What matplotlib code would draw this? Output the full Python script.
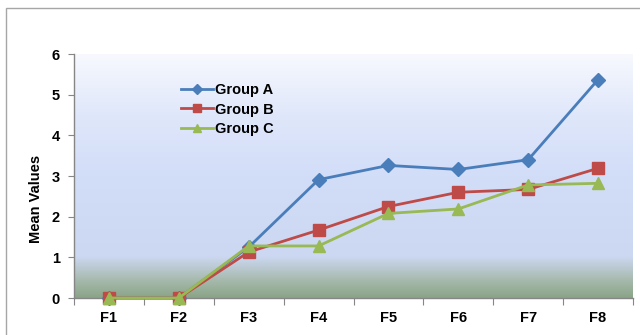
import numpy as np
import matplotlib
matplotlib.use("Agg")
import matplotlib.pyplot as plt
from matplotlib.colors import LinearSegmentedColormap
from matplotlib.patches import Rectangle
from matplotlib.lines import Line2D

categories = ["F1", "F2", "F3", "F4", "F5", "F6", "F7", "F8"]
group_a = [0, 0, 1.25, 2.91, 3.26, 3.16, 3.40, 5.37]
group_b = [0, 0, 1.13, 1.67, 2.25, 2.60, 2.67, 3.19]
group_c = [0, 0, 1.28, 1.28, 2.08, 2.19, 2.78, 2.82]
series_names = ["Group A", "Group B", "Group C"]
y_ticks = [0, 1, 2, 3, 4, 5, 6]

plt.rcParams["font.family"] = ["Liberation Sans", "DejaVu Sans"]

W, H = 640, 335
fig = plt.figure(figsize=(W / 100, H / 100), dpi=100)
fig.patch.set_facecolor("white")

# outer chart frame (runs past the right and bottom edges)
frame = Rectangle((6 / W, -0.2), 1.2, 1 - 8 / H + 0.2,
                  transform=fig.transFigure, fill=False,
                  edgecolor="#a6a6a6", linewidth=1.0)
fig.add_artist(frame)

ax = fig.add_axes([74 / W, 1 - 298 / H, (633 - 74) / W, (298 - 54) / H])

# plot-area gradient: pale at the top, blue through the middle, grey-green at the base
grad = LinearSegmentedColormap.from_list(
    "plotarea",
    [(0.0, "#8aa487"), (0.07, "#a6b9ac"), (0.17, "#ccd8f2"),
     (0.5, "#d2ddf8"), (0.75, "#dfe7fa"), (1.0, "#f7f9fe")])
ax.imshow(np.linspace(0, 1, 256).reshape(-1, 1), cmap=grad, origin="lower",
          extent=[0, 1, 0, 1], transform=ax.transAxes, aspect="auto",
          zorder=0, interpolation="bilinear")

x = np.arange(len(categories))
styles = [
    (group_a, "#4a7ebb", "D", 7),
    (group_b, "#be4b48", "s", 8),
    (group_c, "#98b954", "^", 9),
]
handles = []
for (vals, col, mk, ms), name in zip(styles, series_names):
    ax.plot(x, vals, color=col, linewidth=2.0, marker=mk, markersize=ms,
            markerfacecolor=col, markeredgecolor=col, zorder=3, clip_on=False)
    handles.append(Line2D([0], [0], color=col, linewidth=2.0, marker=mk,
                          markersize=ms * 0.7, markerfacecolor=col,
                          markeredgecolor=col))

ax.set_xlim(-0.5, len(categories) - 0.5)
ax.set_ylim(0, 6)
ax.set_yticks(y_ticks)
ax.set_yticklabels([str(v) for v in y_ticks], fontsize=10.5, fontweight="bold")

ax.set_xticks(np.arange(len(categories) + 1) - 0.5)
ax.set_xticklabels([])
ax.set_xticks(x, minor=True)
ax.set_xticklabels(categories, minor=True, fontsize=10.5, fontweight="bold")
ax.tick_params(axis="x", which="minor", length=0, pad=9)
ax.tick_params(axis="x", which="major", length=5, color="#868686", direction="out")
ax.tick_params(axis="y", length=4, color="#868686", direction="out", pad=6)

for side in ("top", "right"):
    ax.spines[side].set_visible(False)
for side in ("left", "bottom"):
    ax.spines[side].set_color("#868686")
    ax.spines[side].set_linewidth(1.0)

ax.set_ylabel("Mean Values", fontsize=10.5, fontweight="bold")
ax.yaxis.set_label_coords((43 - 74) / 559, (298 - 199) / 244)

ax.legend(handles, series_names, loc="upper left",
          bbox_to_anchor=((181 - 74) / 559, (298 - 83) / 244),
          frameon=False, prop={"weight": "bold", "size": 10.5},
          handlelength=2.2, handletextpad=0.15, labelspacing=0.38,
          borderaxespad=0, borderpad=0)

fig.savefig("out.png", dpi=100, facecolor="white")
